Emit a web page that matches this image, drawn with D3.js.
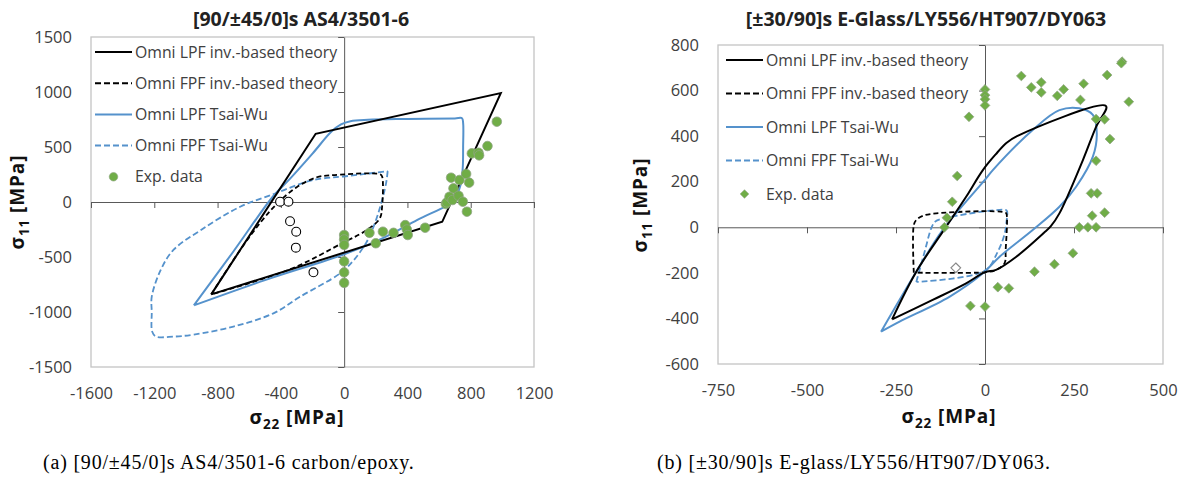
<!DOCTYPE html>
<html>
<head>
<meta charset="utf-8">
<script src="https://cdn.jsdelivr.net/npm/d3@7"></script>
<style>
  body { margin: 0; background: #fff; }
  svg text { font-family: "Open Sans", sans-serif; }
  svg text.caption { font-family: "Liberation Serif", "DejaVu Serif", serif; letter-spacing: 0.8px; }
</style>
</head>
<body>
<svg id="chart" width="1192" height="478"></svg>
<script>
// ---- (a) [90/±45/0]s AS4/3501-6 ----
const leftXTicks = [-1600, -1200, -800, -400, 0, 400, 800, 1200];
const leftYTicks = [-1500, -1000, -500, 0, 500, 1000, 1500];

const leftLpfInv = [[-840, -840], [-180, 620], [990, 990], [620, -180], [-840, -840]];
const leftFpfInv = [[-840, -840], [-657, -436], [-520, -170], [-420, -10], [-300, 135], [-173, 225],
  [-60, 245], [228, 252], [240, 232], [240, -40], [225, -150], [143, -255], [0, -365],
  [-342, -612], [-840, -840]];
const leftLpfTw = [[-950, -940], [-700, -450], [-450, 50], [-340, 215], [-200, 440], [-80, 640],
  [-20, 705], [40, 735], [150, 748], [400, 755], [700, 760], [745, 762], [752, 720], [752, 500],
  [750, 320], [740, 180], [722, 94], [702, 20], [460, -165], [228, -340], [0, -475],
  [-500, -710], [-950, -940]];
const leftFpfTw = [[275, 280], [265, 170], [228, -43], [186, -224], [143, -361], [60, -530],
  [-25, -648], [-278, -861], [-447, -1012], [-700, -1133], [-950, -1205], [-1079, -1224],
  [-1190, -1222], [-1213, -1180], [-1216, -1000], [-1216, -861], [-1160, -620], [-1079, -436],
  [-900, -250], [-657, -43], [-440, 75], [-236, 185], [-130, 215], [-4, 232], [275, 280]];
const leftExp = [[0, -300], [0, -340], [0, -390], [0, -540], [0, -640], [0, -735],
  [160, -280], [200, -375], [245, -270], [312, -280], [386, -210], [396, -250], [402, -300],
  [512, -234], [643, -18], [649, -3], [666, 48], [685, 18], [691, 124], [723, 57], [750, 3],
  [776, -88], [676, 221], [729, 200], [771, 255], [790, 176], [807, 442], [849, 448],
  [853, 424], [906, 509], [965, 730]];
const leftExpOpen = [[-405, 3], [-352, 3], [-342, -175], [-303, -270], [-305, -415], [-194, -639]];

// ---- (b) [±30/90]s E-Glass/LY556/HT907/DY063 ----
const rightXTicks = [-750, -500, -250, 0, 250, 500];
const rightYTicks = [-600, -400, -200, 0, 200, 400, 600, 800];

const rightLpfInv = [[-261, -404], [-193, -195], [-109, 3], [-53, 134], [-6, 251], [30, 320],
  [60, 370], [90, 400], [340, 532], [312, 441], [275, 295], [209, 61], [185, 5], [165, -25],
  [88, -129], [31, -187], [0, -197], [-53, -246], [-147, -319], [-261, -404]];
const rightFpfInv = [[-200, -199], [-200, 10], [-193, 32], [-175, 50], [-137, 61], [58, 64],
  [61, 55], [58, -100], [55, -157], [31, -187], [0, -197], [-200, -199]];
const rightLpfTw = [[-292, -458], [-193, -195], [-119, -12], [-1, 207], [22, 251], [134, 427],
  [209, 514], [265, 522], [303, 493], [314, 412], [303, 310], [256, 178], [209, 90],
  [134, -12], [41, -129], [-6, -202], [-100, -305], [-240, -414], [-292, -458]];
const rightFpfTw = [[-193, -240], [-170, -110], [-150, 0], [-140, 25], [-120, 38], [58, 76],
  [62, 70], [60, 20], [55, -30], [35, -110], [0, -190], [-193, -240]];
const rightExp = [[385, 727], [383, 720], [102, 664], [130, 614], [158, 636], [158, 592],
  [203, 577], [221, 605], [277, 630], [343, 668], [404, 551], [268, 559], [0, 605], [0, 580],
  [0, 562], [0, 535], [-45, 485], [312, 475], [336, 474], [351, 387], [312, 292], [-78, 225],
  [298, 149], [315, 149], [-92, 112], [336, 64], [301, 51], [-107, 42], [-114, 0], [265, 0],
  [289, 0], [312, 0], [247, -114], [195, -162], [139, -195], [36, -263], [67, -268],
  [-41, -345], [0, -348]];
const rightExpOpen = [[-82, -178]];

const legendNames = ['Omni LPF inv.-based theory', 'Omni FPF inv.-based theory',
  'Omni LPF Tsai-Wu', 'Omni FPF Tsai-Wu', 'Exp. data'];

const BLUE = '#5592cc';
const GREEN = '#70ad47';
const svg = d3.select('#chart');

function drawPanel(cfg) {
  const g = svg.append('g');
  const x = d3.scaleLinear().domain(cfg.xDomain).range(cfg.xRange);
  const y = d3.scaleLinear().domain(cfg.yDomain).range(cfg.yRange);

  // plot area border
  g.append('rect')
    .attr('x', cfg.xRange[0]).attr('y', cfg.yRange[1])
    .attr('width', cfg.xRange[1] - cfg.xRange[0])
    .attr('height', cfg.yRange[0] - cfg.yRange[1])
    .attr('fill', 'none').attr('stroke', '#c4c4c4').attr('stroke-width', 1.3);

  // zero axes with tick marks
  g.append('g').attr('transform', `translate(0,${y(0)})`).attr('color', '#595959')
    .call(d3.axisBottom(x).tickValues(cfg.xTicks).tickSize(6).tickSizeOuter(0).tickFormat(''));
  g.append('g').attr('transform', `translate(${x(0)},0)`).attr('color', '#595959')
    .call(d3.axisLeft(y).tickValues(cfg.yTicks).tickSize(6).tickSizeOuter(0).tickFormat(''));

  // tick labels at the plot edges
  const fmt = d => String(d);
  const xl = g.append('g').attr('transform', `translate(0,${cfg.yRange[0]})`)
    .call(d3.axisBottom(x).tickValues(cfg.xTicks).tickSize(0).tickPadding(cfg.xPad).tickFormat(fmt));
  const yl = g.append('g').attr('transform', `translate(${cfg.xRange[0]},0)`)
    .call(d3.axisLeft(y).tickValues(cfg.yTicks).tickSize(0).tickPadding(19).tickFormat(fmt));
  [xl, yl].forEach(a => {
    a.select('.domain').remove();
    a.selectAll('text').attr('font-size', 16.5).attr('fill', '#404040');
  });

  const line = d3.line().x(d => x(d[0])).y(d => y(d[1]));
  const smooth = d3.line().x(d => x(d[0])).y(d => y(d[1])).curve(d3.curveCatmullRom.alpha(0.5));

  g.append('path').datum(cfg.fpfTw).attr('d', smooth).attr('fill', 'none')
    .attr('stroke', BLUE).attr('stroke-width', 1.8).attr('stroke-dasharray', '6,3');
  g.append('path').datum(cfg.fpfInv).attr('d', smooth).attr('fill', 'none')
    .attr('stroke', '#000').attr('stroke-width', 1.8).attr('stroke-dasharray', '5,3');
  g.append('path').datum(cfg.lpfTw).attr('d', smooth).attr('fill', 'none')
    .attr('stroke', BLUE).attr('stroke-width', 2);
  g.append('path').datum(cfg.lpfInv).attr('d', cfg.sharpInv ? line : smooth).attr('fill', 'none')
    .attr('stroke', '#000').attr('stroke-width', 2);

  // experimental data
  const sym = d3.symbol().type(cfg.marker).size(cfg.markerSize);
  g.append('g').selectAll('path').data(cfg.expOpen).join('path')
    .attr('transform', d => `translate(${x(d[0])},${y(d[1])})`)
    .attr('d', cfg.openMarker === 'circle' ? d3.symbol().type(d3.symbolCircle).size(62) : sym)
    .attr('fill', '#fff').attr('stroke', cfg.openStroke).attr('stroke-width', 1.1);
  g.append('g').selectAll('path').data(cfg.exp).join('path')
    .attr('transform', d => `translate(${x(d[0])},${y(d[1])})`)
    .attr('d', sym)
    .attr('fill', GREEN).attr('stroke', cfg.expStroke).attr('stroke-width', 0.8);

  // legend
  const lg = g.append('g');
  legendNames.forEach((name, i) => {
    const ly = cfg.legend.y0 + i * cfg.legend.dy;
    const x0 = cfg.legend.x0, x1 = cfg.legend.x1;
    if (i < 4) {
      lg.append('line').attr('x1', x0).attr('x2', x1).attr('y1', ly).attr('y2', ly)
        .attr('stroke', i < 2 ? '#000' : BLUE).attr('stroke-width', 2)
        .attr('stroke-dasharray', i % 2 ? '6,3' : null);
    } else {
      lg.append('path').attr('transform', `translate(${(x0 + x1) / 2},${ly})`)
        .attr('d', d3.symbol().type(cfg.marker).size(cfg.markerSize * 0.8))
        .attr('fill', GREEN).attr('stroke', cfg.expStroke).attr('stroke-width', 0.6);
    }
    lg.append('text').attr('x', x1 + 3).attr('y', ly).attr('dy', '0.35em')
      .attr('font-size', 15.8).attr('fill', '#404040').text(name);
  });

  // title
  g.append('text').attr('x', cfg.title.x).attr('y', cfg.title.y).attr('text-anchor', 'middle')
    .attr('font-size', 19.5).attr('font-weight', 'bold').attr('fill', '#222').text(cfg.title.text);

  // axis titles
  const xt = g.append('text').attr('x', cfg.xTitle[0]).attr('y', cfg.xTitle[1])
    .attr('text-anchor', 'middle').attr('font-size', 19).attr('font-weight', 'bold')
    .attr('letter-spacing', 0.9).attr('fill', '#111');
  xt.append('tspan').text('σ');
  xt.append('tspan').attr('font-size', 13.5).attr('dy', 5).text('22');
  xt.append('tspan').attr('dy', -5).text(' [MPa]');

  const yt = g.append('text')
    .attr('transform', `translate(${cfg.yTitle[0]},${cfg.yTitle[1]}) rotate(-90)`)
    .attr('text-anchor', 'middle').attr('font-size', 19).attr('font-weight', 'bold')
    .attr('letter-spacing', 0.9).attr('fill', '#111');
  yt.append('tspan').text('σ');
  yt.append('tspan').attr('font-size', 13.5).attr('dy', 5).text('11');
  yt.append('tspan').attr('dy', -5).text(' [MPa]');

  // caption
  g.append('text').attr('class', 'caption').attr('x', cfg.caption.x).attr('y', 469)
    .attr('font-size', 20).attr('fill', '#000')
    .text(cfg.caption.text);
}

drawPanel({
  xDomain: [-1600, 1200], xRange: [91, 534],
  yDomain: [-1500, 1500], yRange: [367, 37],
  xTicks: leftXTicks, yTicks: leftYTicks, xPad: 20,
  lpfInv: leftLpfInv, fpfInv: leftFpfInv, lpfTw: leftLpfTw, fpfTw: leftFpfTw, sharpInv: true,
  exp: leftExp, expOpen: leftExpOpen,
  marker: d3.symbolCircle, markerSize: 72, openMarker: 'circle',
  openStroke: '#000', expStroke: '#8fa583',
  legend: { x0: 95, x1: 132, y0: 52, dy: 31.2 },
  title: { x: 301, y: 26, text: '[90/±45/0]s AS4/3501-6' },
  xTitle: [297, 424], yTitle: [24, 202],
  caption: { x: 43, text: '(a) [90/±45/0]s AS4/3501-6 carbon/epoxy.' }
});

drawPanel({
  xDomain: [-750, 500], xRange: [718, 1163],
  yDomain: [-600, 800], yRange: [364, 45],
  xTicks: rightXTicks, yTicks: rightYTicks, xPad: 20,
  lpfInv: rightLpfInv, fpfInv: rightFpfInv, lpfTw: rightLpfTw, fpfTw: rightFpfTw, sharpInv: false,
  exp: rightExp, expOpen: rightExpOpen,
  marker: d3.symbolDiamond2, markerSize: 60, openMarker: 'diamond',
  openStroke: '#888', expStroke: '#8fa583',
  legend: { x0: 726, x1: 763, y0: 60, dy: 33.5 },
  title: { x: 926, y: 26, text: '[±30/90]s E-Glass/LY556/HT907/DY063' },
  xTitle: [949, 423], yTitle: [647, 205],
  caption: { x: 657, text: '(b) [±30/90]s E-glass/LY556/HT907/DY063.' }
});
</script>
</body>
</html>
